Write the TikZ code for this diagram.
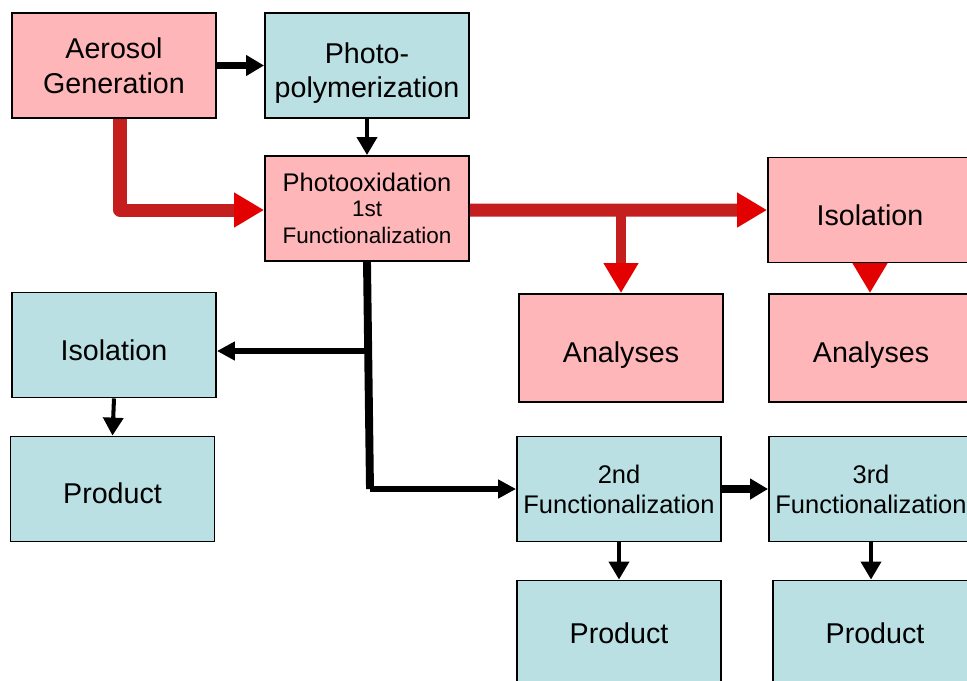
\documentclass[tikz,border=0pt]{standalone}
\usepackage{fontspec}
\setmainfont{Liberation Sans}
\usetikzlibrary{arrows.meta}
\definecolor{boxpink}{RGB}{255,182,185}
\definecolor{boxblue}{RGB}{186,224,227}
\definecolor{redline}{RGB}{196,30,30}
\definecolor{redhead}{RGB}{226,0,0}
% place text so that its first baseline lies #1 above the node centre
\newcommand{\placetext}[2]{\raisebox{#1}[0pt][0pt]{\begin{tabular}[t]{@{}c@{}}#2\end{tabular}}}
\begin{document}
\begin{tikzpicture}[x=0.02cm,y=-0.02cm,
  box/.style={draw=black, line width=1.1pt, minimum width=4.08cm, minimum height=2.1cm,
    inner sep=0pt, align=center, font=\fontsize{16.3}{19.8}\selectfont},
  pinkbox/.style={box, fill=boxpink},
  bluebox/.style={box, fill=boxblue},
  redarrow/.style={draw=redline, line width=7.4pt, line join=round,
    -{Triangle[length=17pt,width=18.7pt,color=redhead,fill=redhead]}},
  redbranch/.style={redarrow, line width=5.7pt},
  thickarrow/.style={draw=black, line width=4.5pt, -{Triangle[length=10.2pt,width=11.3pt]}},
  midarrow/.style={draw=black, line width=3.4pt, line join=round, -{Triangle[length=10.2pt,width=10.2pt]}},
  thinarrow/.style={draw=black, line width=2.3pt, -{Triangle[length=10.2pt,width=11.3pt]}},
  trunk/.style={draw=black, line width=4.5pt}
]
\useasboundingbox (0,0) rectangle (967,680);
\fill[white] (0,0) rectangle (967,680);
\clip (0,0) rectangle (967,680);

% nodes
\node[pinkbox] (aero) at (114,65.5) {Aerosol\\Generation};
\node[bluebox] (photo) at (367,65.5) {\placetext{0.05cm}{Photo-\\polymerization}};
\node[pinkbox, font=\fontsize{12.8}{13.8}\selectfont] (pox) at (367,208.5)
  {{\fontsize{14.5}{13.8}\selectfont Photooxidation}\\
   1st\\[1.6pt]
   Functionalization};
\node[pinkbox] (isoR) at (870,210) {\placetext{-0.30cm}{Isolation}};
\node[pinkbox, minimum height=2.16cm] (ana1) at (621,348) {\placetext{-0.29cm}{Analyses}};
\node[pinkbox, minimum height=2.16cm] (ana2) at (871,348) {\placetext{-0.29cm}{Analyses}};
\node[bluebox] (isoL) at (114,345) {\placetext{-0.30cm}{Isolation}};
\node[bluebox] (prodL) at (112.5,489) {\placetext{-0.28cm}{Product}};
\node[bluebox, font=\fontsize{14.5}{17}\selectfont] (f2) at (619,489) {2nd\\Functionalization};
\node[bluebox, font=\fontsize{14.5}{17}\selectfont] (f3) at (871,489) {3rd\\Functionalization};
\node[bluebox] (p2) at (619,633) {Product};
\node[bluebox] (p3) at (875,633) {Product};

% red connectors
\draw[redarrow] ([xshift=0.12cm]aero.south) |- ([yshift=-0.03cm]pox.west);
\draw[redarrow] ([yshift=-0.03cm]pox.east) -- (isoR.west);
\draw[redbranch] (ana1.north |- isoR.west) -- (ana1.north);
\draw[redbranch] (isoR.south) -- (isoR.south |- ana2.north);

% black connectors
\draw[thickarrow] (aero.east) -- (photo.west);
\draw[thinarrow] (photo.south) -- (pox.north);
\coordinate (bj) at ([yshift=-0.12cm]isoL.east);
\coordinate (elbow) at ([xshift=0.06cm]pox.south |- f2.west);
\draw[trunk] (pox.south) -- (elbow);
\draw[midarrow] (elbow) -- (f2.west);
\draw[midarrow] (pox.south |- bj) -- (bj);
\draw[thinarrow] (isoL.south) -- (prodL.north);
\draw[thickarrow] (f2.east) -- (f3.west);
\draw[thinarrow] (f2.south) -- (p2.north);
\draw[thinarrow] (f3.south) -- (f3.south |- p3.north);
\end{tikzpicture}
\end{document}
